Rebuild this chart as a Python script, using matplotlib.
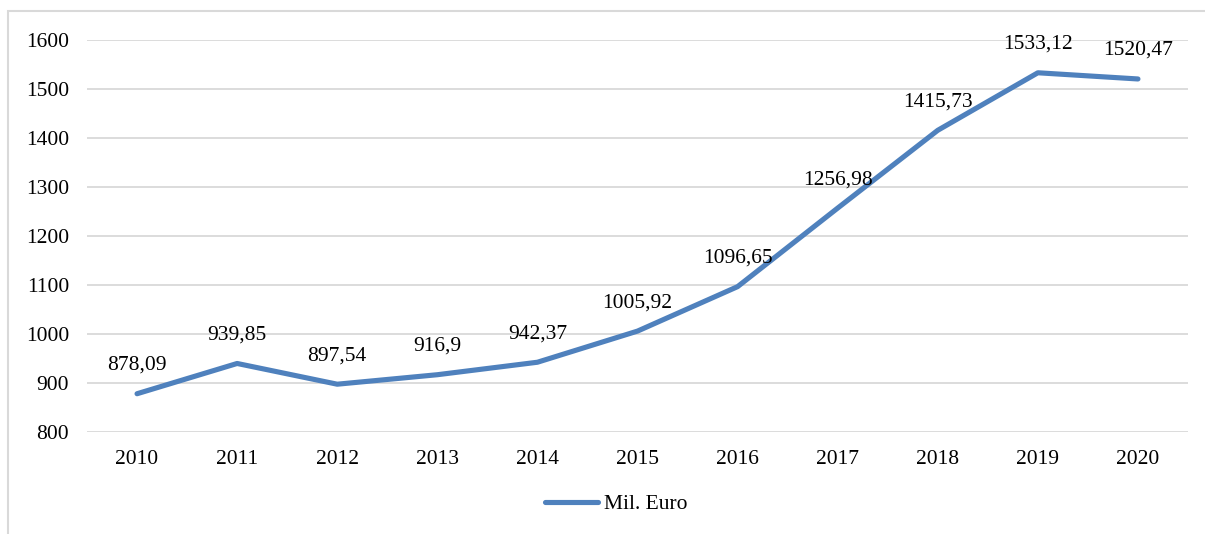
import numpy as np
import matplotlib.pyplot as plt
from matplotlib.patches import Rectangle

years = ['2010', '2011', '2012', '2013', '2014', '2015', '2016', '2017', '2018', '2019', '2020']
values = [878.09, 939.85, 897.54, 916.9, 942.37, 1005.92, 1096.65, 1256.98, 1415.73, 1533.12, 1520.47]
labels = ['878,09', '939,85', '897,54', '916,9', '942,37', '1005,92', '1096,65',
          '1256,98', '1415,73', '1533,12', '1520,47']
series_name = 'Mil. Euro'

plt.rcParams['font.family'] = ['Liberation Serif', 'DejaVu Serif']
fs = 15.5

fig = plt.figure(figsize=(12.05, 5.34), dpi=100)
ax = fig.add_axes([87 / 1205, 1 - 432 / 534, (1188 - 87) / 1205, (432 - 40) / 534])

# chart area border (only left and top visible)
fig.patches.append(Rectangle((8 / 1205, -0.1), 1.2, 1 - 11 / 534 + 0.1,
                             transform=fig.transFigure, fill=False,
                             edgecolor='#D9D9D9', linewidth=1.5))

x = np.arange(len(years))
line, = ax.plot(x, values, color='#4F81BD', linewidth=3.7,
                solid_capstyle='round', solid_joinstyle='round', label=series_name)

for xi, v, lab in zip(x, values, labels):
    ax.annotate(lab, (xi, v), xytext=(0, 20.5), textcoords='offset points',
                ha='center', va='center', fontsize=fs, color='#000000')

ax.set_xlim(-0.5, len(years) - 0.5)
ax.set_ylim(800, 1600)
ax.set_yticks(np.arange(800, 1601, 100))
ax.set_xticks(x)
ax.set_xticklabels(years)
ax.tick_params(axis='both', length=0, labelsize=fs, colors='#000000')
ax.tick_params(axis='y', pad=13)
ax.tick_params(axis='x', pad=13)
ax.grid(axis='y', color='#D9D9D9', linewidth=1.3)
ax.set_axisbelow(True)
for s in ax.spines.values():
    s.set_visible(False)

fig.legend(handles=[line], loc='center', bbox_to_anchor=(616 / 1205, 1 - 504 / 534),
           frameon=False, fontsize=fs, handlelength=2.5, handletextpad=0.25)

fig.savefig('out.png', dpi=100)
